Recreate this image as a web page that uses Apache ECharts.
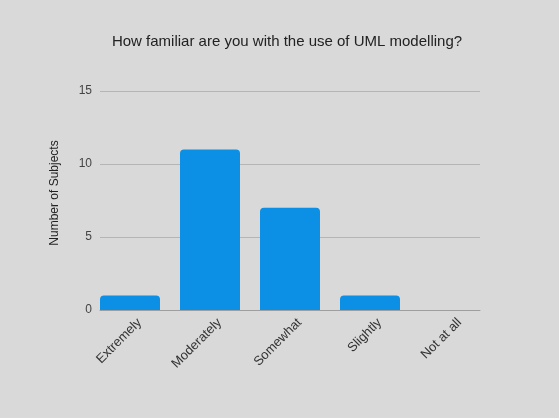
<!DOCTYPE html>
<html>
<head>
<meta charset="utf-8">
<script src="https://cdn.jsdelivr.net/npm/echarts@6/dist/echarts.min.js"></script>
<style>
  html, body { margin: 0; padding: 0; background: #d9d9d9; }
  #chart { width: 559px; height: 418px; }
</style>
</head>
<body>
<div id="chart"></div>
<script>
// Survey answers: familiarity with UML modelling
const categories = ['Extremely', 'Moderately', 'Somewhat', 'Slightly', 'Not at all'];
const subjects = [1, 11, 7, 1, 0];
const yTicks = [0, 5, 10, 15];

const chart = echarts.init(document.getElementById('chart'), null, { renderer: 'canvas' });
const font = 'Arial, "Liberation Sans", sans-serif';

chart.setOption({
  backgroundColor: '#d9d9d9',
  animation: false,
  title: {
    text: 'How familiar are you with the use of UML modelling?',
    left: 282, top: 29, textAlign: 'center',
    textStyle: { fontFamily: font, fontSize: 15, fontWeight: 'normal', color: '#222' }
  },
  grid: [
    // value scale + gridlines
    { left: 100, right: 79, top: 91, bottom: 108 },
    // bars: category bands extend half a gap past the gridlines
    { left: 90, right: 69, top: 91, bottom: 108 }
  ],
  xAxis: [
    {
      gridIndex: 0, type: 'value', min: 0, max: 1,
      axisLine: { show: true, lineStyle: { color: '#9e9e9e', width: 1 } },
      axisTick: { show: false }, axisLabel: { show: false }, splitLine: { show: false }
    },
    {
      gridIndex: 1, type: 'category', data: categories,
      axisLine: { show: false }, axisTick: { show: false },
      axisLabel: {
        rotate: 45, margin: 1, interval: 0,
        verticalAlign: 'top', lineHeight: 27,
        fontFamily: font, fontSize: 13, color: '#333'
      }
    }
  ],
  yAxis: [
    {
      gridIndex: 0, type: 'value', min: yTicks[0], max: yTicks[yTicks.length - 1], interval: 5,
      axisLine: { show: false }, axisTick: { show: false },
      axisLabel: { margin: 8, fontFamily: font, fontSize: 12, color: '#444' },
      splitLine: { lineStyle: { color: '#b5b5b5', width: 1 } }
    },
    {
      gridIndex: 1, type: 'value', min: yTicks[0], max: yTicks[yTicks.length - 1], interval: 5,
      axisLine: { show: false }, axisTick: { show: false },
      axisLabel: { show: false }, splitLine: { show: false }
    }
  ],
  graphic: [{
    type: 'text',
    x: 55, y: 193, rotation: Math.PI / 2,
    style: {
      text: 'Number of Subjects',
      fontFamily: font, fontSize: 12, fill: '#222',
      align: 'center', verticalAlign: 'middle'
    }
  }],
  series: [{
    type: 'bar',
    xAxisIndex: 1, yAxisIndex: 1,
    data: subjects,
    barWidth: 60,
    itemStyle: { color: '#0b90e6', borderRadius: [4, 4, 0, 0] }
  }]
});
</script>
</body>
</html>
